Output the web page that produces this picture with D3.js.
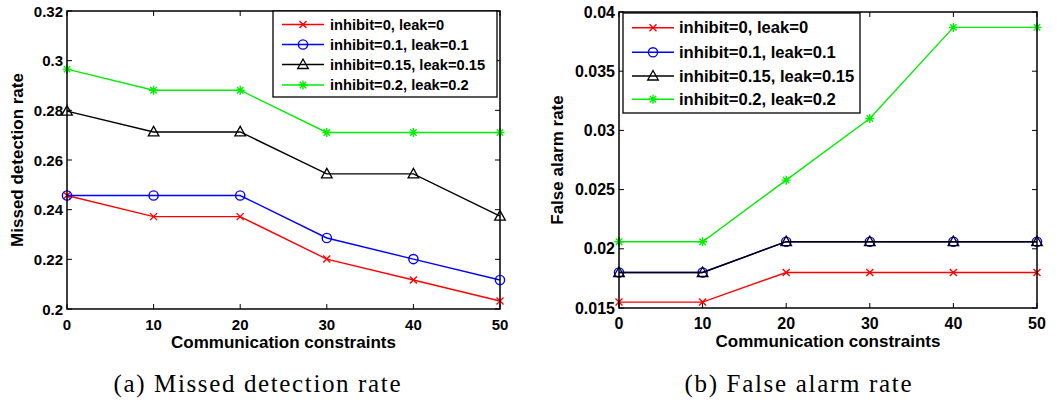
<!DOCTYPE html>
<html>
<head>
<meta charset="utf-8">
<script src="https://cdn.jsdelivr.net/npm/d3@7"></script>
<style>
  body { margin: 0; background: #fff; }
  text { font-family: "Liberation Sans", Arial, sans-serif; font-weight: bold; }
  .caption { font-family: "Liberation Serif", "DejaVu Serif", serif; font-weight: normal; }
</style>
</head>
<body>
<div id="chart"></div>
<script>
// data
var constraints = [0, 10, 20, 30, 40, 50]
var seriesNames = ["inhibit=0, leak=0", "inhibit=0.1, leak=0.1", "inhibit=0.15, leak=0.15", "inhibit=0.2, leak=0.2"]
var seriesColors = ["#ff0000", "#0000ff", "#000000", "#00ee00"]
var seriesMarkers = ["cross", "circle", "triangle", "star"]

var missed0   = [0.2457, 0.2372, 0.2372, 0.2201, 0.2117, 0.2032]
var missed01  = [0.2457, 0.2457, 0.2457, 0.2286, 0.2201, 0.2117]
var missed015 = [0.2797, 0.2713, 0.2713, 0.2544, 0.2544, 0.2374]
var missed02  = [0.2966, 0.2881, 0.2881, 0.2711, 0.2711, 0.2711]
var missedTicks = [0.2, 0.22, 0.24, 0.26, 0.28, 0.3, 0.32]

var false0   = [0.0155, 0.0155, 0.0180, 0.0180, 0.0180, 0.0180]
var false01  = [0.0180, 0.0180, 0.0206, 0.0206, 0.0206, 0.0206]
var false015 = [0.0180, 0.0180, 0.0206, 0.0206, 0.0206, 0.0206]
var false02  = [0.0206, 0.0206, 0.0258, 0.0310, 0.0387, 0.0387]
var falseTicks = [0.015, 0.02, 0.025, 0.03, 0.035, 0.04]

var xTicks = [0, 10, 20, 30, 40, 50]

var width = 1064
    height = 402

var svg = d3.select("#chart")
  .append("svg")
    .attr("width", width)
    .attr("height", height)

// draw one marker shape at (0,0)
function marker(g, type, color) {
  if (type == "cross") {
    g.append("path").attr("d", "M-3.5,-3.5L3.5,3.5M-3.5,3.5L3.5,-3.5")
      .attr("stroke", color).attr("stroke-width", 1.4).attr("fill", "none")
  } else if (type == "circle") {
    g.append("circle").attr("r", 4.6)
      .attr("stroke", color).attr("stroke-width", 1.4).attr("fill", "none")
  } else if (type == "triangle") {
    g.append("path").attr("d", "M0,-5.5L5.3,4L-5.3,4Z")
      .attr("stroke", color).attr("stroke-width", 1.3).attr("fill", "none")
  } else {
    g.append("path").attr("d", "M0,-4.5L0,4.5M-4.5,0L4.5,0M-3.2,-3.2L3.2,3.2M-3.2,3.2L3.2,-3.2")
      .attr("stroke", color).attr("stroke-width", 1.4).attr("fill", "none")
  }
}

function panel(opt) {
  var g = svg.append("g")

  var x = d3.scaleLinear().domain([0, 50]).range([opt.left, opt.right])
  var y = d3.scaleLinear().domain(opt.yDomain).range([opt.bottom, opt.top])

  // tick marks inside, on all four sides
  var tl = 5
  xTicks.forEach(function(t) {
    g.append("line").attr("x1", x(t)).attr("x2", x(t)).attr("y1", opt.bottom).attr("y2", opt.bottom - tl).attr("stroke", "#000")
    g.append("line").attr("x1", x(t)).attr("x2", x(t)).attr("y1", opt.top).attr("y2", opt.top + tl).attr("stroke", "#000")
    g.append("text").attr("x", x(t)).attr("y", opt.bottom + 15)
      .attr("text-anchor", "middle").attr("dominant-baseline", "central")
      .style("font-size", opt.tickFont + "px").text(t)
  })
  opt.yTicks.forEach(function(t) {
    g.append("line").attr("x1", opt.left).attr("x2", opt.left + tl).attr("y1", y(t)).attr("y2", y(t)).attr("stroke", "#000")
    g.append("line").attr("x1", opt.right).attr("x2", opt.right - tl).attr("y1", y(t)).attr("y2", y(t)).attr("stroke", "#000")
    g.append("text").attr("x", opt.left - 4).attr("y", y(t))
      .attr("text-anchor", "end").attr("dominant-baseline", "central")
      .style("font-size", opt.tickFont + "px").text(t)
  })

  // series
  var line = d3.line().x(function(d, i) { return x(constraints[i]) }).y(function(d) { return y(d) })
  opt.series.forEach(function(vals, k) {
    g.append("path").attr("d", line(vals))
      .attr("fill", "none").attr("stroke", seriesColors[k]).attr("stroke-width", 1.4)
    vals.forEach(function(v, i) {
      var m = g.append("g").attr("transform", "translate(" + x(constraints[i]) + "," + y(v) + ")")
      marker(m, seriesMarkers[k], seriesColors[k])
    })
  })

  // axes box
  g.append("rect").attr("x", opt.left).attr("y", opt.top)
    .attr("width", opt.right - opt.left).attr("height", opt.bottom - opt.top)
    .attr("fill", "none").attr("stroke", "#000").attr("stroke-width", 1.5)

  // legend
  var lg = opt.legend
  g.append("rect").attr("x", lg.x).attr("y", lg.y).attr("width", lg.w).attr("height", lg.h)
    .attr("fill", "#fff").attr("stroke", "#000").attr("stroke-width", 1.3)
  seriesNames.forEach(function(name, k) {
    var ry = lg.rows[k]
    g.append("line").attr("x1", lg.x + lg.l0).attr("x2", lg.x + lg.l1).attr("y1", ry).attr("y2", ry)
      .attr("stroke", seriesColors[k]).attr("stroke-width", 1.4)
    var m = g.append("g").attr("transform", "translate(" + (lg.x + (lg.l0 + lg.l1) / 2) + "," + ry + ")")
    marker(m, seriesMarkers[k], seriesColors[k])
    g.append("text").attr("x", lg.x + lg.tx).attr("y", ry).attr("dominant-baseline", "central")
      .style("font-size", lg.font + "px").text(name)
  })

  // axis titles
  g.append("text").attr("x", (opt.left + opt.right) / 2).attr("y", opt.bottom + 33)
    .attr("text-anchor", "middle").attr("dominant-baseline", "central")
    .style("font-size", opt.titleFont + "px").text("Communication constraints")
  g.append("text").attr("transform", "translate(" + opt.yTitleX + "," + (opt.top + opt.bottom) / 2 + ") rotate(-90)")
    .attr("text-anchor", "middle").attr("dominant-baseline", "central")
    .style("font-size", opt.titleFont + "px").text(opt.yTitle)

  // caption
  g.append("text").attr("class", "caption").attr("x", opt.capX).attr("y", 383)
    .attr("text-anchor", "middle").attr("dominant-baseline", "central")
    .attr("textLength", opt.capW).attr("lengthAdjust", "spacing")
    .style("font-size", "25px").text(opt.caption)
}

panel({
  left: 67, right: 500, top: 11, bottom: 309,
  yDomain: [0.2, 0.32], yTicks: missedTicks,
  series: [missed0, missed01, missed015, missed02],
  tickFont: 15, titleFont: 17,
  yTitle: "Missed detection rate", yTitleX: 17,
  caption: "(a) Missed detection rate", capX: 257, capW: 287,
  legend: { x: 273, y: 11, w: 224, h: 86, rows: [24.5, 44.5, 64.5, 85], l0: 9, l1: 51, tx: 57, font: 14.7 }
})

panel({
  left: 619, right: 1037, top: 12, bottom: 308,
  yDomain: [0.015, 0.04], yTicks: falseTicks,
  series: [false0, false01, false015, false02],
  tickFont: 16, titleFont: 17,
  yTitle: "False alarm rate", yTitleX: 557,
  caption: "(b) False alarm rate", capX: 798, capW: 227,
  legend: { x: 623, y: 13, w: 237, h: 100, rows: [27.7, 52.3, 76, 99.3], l0: 9, l1: 51, tx: 56, font: 16.6 }
})
</script>
</body>
</html>
